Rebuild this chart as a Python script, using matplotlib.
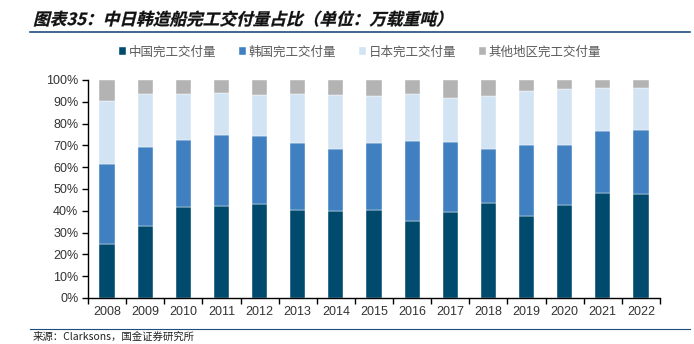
import matplotlib
matplotlib.use("Agg")
import matplotlib.pyplot as plt
import numpy as np
from matplotlib.textpath import TextPath
from matplotlib.patches import PathPatch
from matplotlib.font_manager import FontProperties
from matplotlib.transforms import Affine2D

plt.rcParams['font.family'] = ['Noto Sans CJK SC', 'DejaVu Sans']

years = ['2008', '2009', '2010', '2011', '2012', '2013', '2014', '2015',
         '2016', '2017', '2018', '2019', '2020', '2021', '2022']
# cumulative shares (%)
china = [24.9, 33.2, 41.6, 42.1, 43.2, 40.4, 39.8, 40.3, 35.5, 39.3, 43.8, 37.7, 42.7, 48.3, 47.6]
korea_cum = [61.3, 69.2, 72.6, 74.7, 74.1, 70.9, 68.2, 70.9, 72.1, 71.5, 68.2, 70.3, 70.3, 76.4, 77.0]
japan_cum = [90.2, 93.6, 93.6, 94.2, 93.0, 93.6, 93.0, 92.5, 93.7, 91.9, 92.7, 94.8, 95.9, 96.5, 96.5]

china = np.array(china)
korea = np.array(korea_cum) - china
japan = np.array(japan_cum) - np.array(korea_cum)
other = 100 - np.array(japan_cum)

series_names = ['中国完工交付量', '韩国完工交付量', '日本完工交付量', '其他地区完工交付量']
colors = ['#004A6E', '#4080C0', '#D2E3F3', '#B3B3B3']
title = '图表35：中日韩造船完工交付量占比（单位：万载重吨）'
source = '来源：Clarksons，国金证券研究所'

fig = plt.figure(figsize=(6.94, 3.44), dpi=100)
ax = fig.add_axes([88/694, 1 - 298/344, (660-88)/694, (298-80)/344])

x = np.arange(len(years))
w = 0.4
bottom = np.zeros(len(years))
for vals, name, c in zip([china, korea, japan, other], series_names, colors):
    ax.bar(x, vals, w, bottom=bottom, color=c, label=name, edgecolor='white', linewidth=0.3)
    bottom = bottom + vals

ax.set_xlim(-0.5, len(years) - 0.5)
ax.set_ylim(0, 100)
ax.set_yticks(np.arange(0, 101, 10))
ax.set_yticklabels([f'{v}%' for v in range(0, 101, 10)])
ax.set_xticks(x)
ax.set_xticklabels(years)
ax.set_xticks(np.arange(-0.5, len(years), 1), minor=True)
ax.tick_params(axis='x', which='major', length=0, pad=6, labelsize=9, labelcolor='#333333')
ax.tick_params(axis='x', which='minor', length=4, direction='out', width=1, color='black')
ax.tick_params(axis='y', length=4, direction='out', width=1, labelsize=9, labelcolor='#333333', pad=3)
for lab in ax.get_xticklabels() + ax.get_yticklabels():
    lab.set_family(['Liberation Sans', 'DejaVu Sans'])
for s in ['top', 'right']:
    ax.spines[s].set_visible(False)
ax.spines['left'].set_linewidth(1)
ax.spines['bottom'].set_linewidth(1)

leg = fig.legend(loc='center', bbox_to_anchor=(360/694, 1 - 52/344), ncol=4, frameon=False,
                 fontsize=9, handlelength=0.6, handleheight=0.6, handletextpad=0.2,
                 columnspacing=1.8)
for t in leg.get_texts():
    t.set_color('#595959')

# italic (sheared) bold title
fp = FontProperties(family='Noto Sans CJK SC', weight='bold')
tp = TextPath((0, 0), title, size=12, prop=fp)
tr = Affine2D().skew_deg(14, 0).scale(1/72.0).translate(33/100, (344-25)/100) + fig.dpi_scale_trans
fig.add_artist(PathPatch(tp, transform=tr, facecolor='#111111', edgecolor='#111111', linewidth=0.2))

fig.add_artist(plt.Line2D([30/694, 690/694], [1 - 32/344, 1 - 32/344], color='#1F4E79', linewidth=1.2))
fig.add_artist(plt.Line2D([30/694, 690/694], [1 - 329/344, 1 - 329/344], color='#1F4E79', linewidth=0.8))
fig.text(33/694, 1 - 337/344, source, fontsize=7.5, va='center', ha='left', color='#222222')

fig.savefig('out.png', dpi=100)
